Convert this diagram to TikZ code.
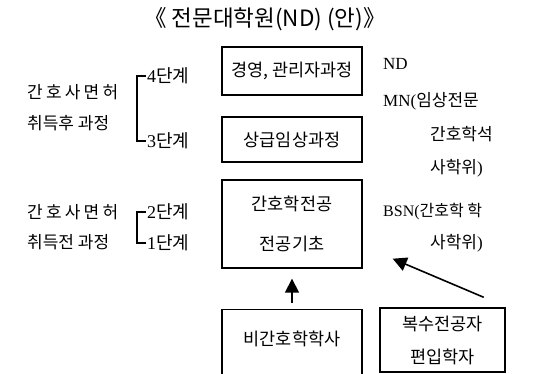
\documentclass[tikz,border=0pt]{standalone}
\usepackage{fontspec}
\setmainfont{Liberation Serif}
\newfontfamily\kr{Noto Sans CJK KR}
\usetikzlibrary{arrows.meta, positioning}

\tikzset{
  box/.style={draw, line width=1.4pt, minimum width=140pt, inner sep=0pt,
              font=\kr\fontsize{17.5}{20}\selectfont},
  lefttxt/.style={anchor=west, inner sep=0pt, font=\kr\fontsize{17}{19}\selectfont},
  stage/.style={anchor=west, inner sep=1pt, font=\fontsize{18}{20}\selectfont},
  righttxt/.style={anchor=west, inner sep=0pt, font=\fontsize{17}{19}\selectfont},
  brk/.style={line width=1.3pt},
  arr/.style={-{Triangle[length=14pt,width=14pt]}, line width=1.6pt}
}

\begin{document}
\begin{tikzpicture}[x=1pt, y=-1pt]
  \useasboundingbox (0,0) rectangle (549,374);
  % 제목
  \node[font=\kr\fontsize{22.5}{26}\selectfont] (title) at (265,19) {《 전문대학원(ND) (안)》};

  % 가운데 상자들
  \node[box, minimum height=48pt] (b1) at (292,71) {경영, 관리자과정};
  \node[box, minimum height=45pt] (b2) at (292,139.5) {상급임상과정};
  \node[box, minimum height=88pt, align=center] (b3) at (292,224)
       {간호학전공\\[20pt]전공기초};
  \node[box, anchor=north, text height=36pt, text depth=45pt] (b4) at (292,309) {비간호학학사};
  \node[box, minimum width=125pt, minimum height=64pt, align=center] (b5) at (442.5,340)
       {복수전공자\\[13pt]편입학자};

  % 왼쪽 설명
  \node[lefttxt] (a1) at (27,92) {\makebox[91pt][s]{간\hfill 호\hfill 사\hfill 면\hfill 허}};
  \node[lefttxt] (a2) at (27,123) {취득후 과정};
  \node[lefttxt] (c1) at (27,212) {\makebox[91pt][s]{간\hfill 호\hfill 사\hfill 면\hfill 허}};
  \node[lefttxt] (c2) at (27,242) {취득전 과정};

  \node[stage] (s4) at (146,76) {4{\kr 단계}};
  \node[stage] (s3) at (146,141) {3{\kr 단계}};
  \node[stage] (s2) at (146,212) {2{\kr 단계}};
  \node[stage] (s1) at (146,243) {1{\kr 단계}};
  \draw[brk] (s4.west) -- ++(-9,0) |- (s3.west);
  \draw[brk] (s2.west) -- ++(-9,0) |- (s1.west);

  % 오른쪽 학위
  \node[righttxt] (d1) at (383,64) {ND};
  \node[righttxt] (d2) at (383,101) {MN({\kr 임상전문}};
  \node[righttxt] (d3) at (430,134) {\kr 간호학석};
  \node[righttxt] (d4) at (430,168) {{\kr 사학위})};
  \node[righttxt] (d5) at (383,212) {\fontsize{16}{19}\selectfont BSN({\kr 간호학 학}};
  \node[righttxt] (d6) at (430,243) {{\kr 사학위})};

  % 화살표
  \draw[arr, shorten <=6pt, shorten >=10pt] (b4.north) -- (b3.south);
  \draw[arr] ([xshift=-22pt,yshift=10pt]b5.north east) -- ([xshift=30pt,yshift=10pt]b3.south east);
\end{tikzpicture}
\end{document}
